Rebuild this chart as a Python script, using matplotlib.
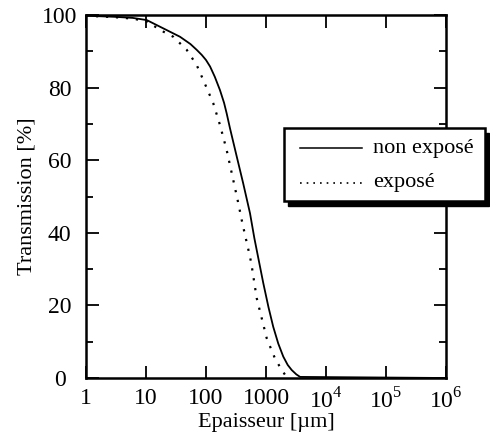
import matplotlib
matplotlib.use("Agg")
import matplotlib.pyplot as plt
import numpy as np
from matplotlib.ticker import FixedLocator, LogLocator, NullFormatter, FixedFormatter
import matplotlib.patches as mpatches
from matplotlib.lines import Line2D

# Data
x_non = [1, 3, 6, 10.3, 19.5, 36.9, 55, 70, 85, 100, 117, 140, 171, 200, 221, 251, 320, 417, 541, 640,
         745, 902, 1100, 1320, 1600, 1940, 2300, 2680, 3200, 3700, 1e6]
y_non = [99.8, 99.5, 99.2, 98.6, 96.3, 94.0, 92.0, 90.4, 89.0, 87.6, 85.8, 83.0, 79.3, 75.8, 72.9, 68.8,
         61.5, 53.6, 45.4, 38.5, 33.0, 26.1, 19.5, 14.1, 9.5, 5.9, 3.6, 2.2, 1.0, 0.3, 0.0]
x_exp = [1, 3, 6, 10, 19.5, 28.5, 47.7, 70, 90, 132, 171, 221, 285, 346, 394,
         447, 541, 575, 700, 1030, 1410, 1700, 2090, 2600]
y_exp = [99.8, 99.4, 99.0, 98.3, 95.4, 94.0, 90.4, 86.2, 82.1, 75.7, 69.7, 62.8, 54.5, 48.1, 43.5,
         39.4, 33.4, 31.1, 22.0, 10.9, 5.4, 3.1, 0.8, 0.0]

labels = ["non exposé", "exposé"]
xticks = [1, 10, 100, 1000, 1e4, 1e5, 1e6]
xticklabels = ["1", "10", "100", "1000", r"10$^4$", r"10$^5$", r"10$^6$"]
yticks = [0, 20, 40, 60, 80, 100]

plt.rcParams['font.family'] = ['Liberation Serif', 'DejaVu Serif']
plt.rcParams['mathtext.fontset'] = 'custom'
plt.rcParams['mathtext.rm'] = 'Liberation Serif'

W, H = 490, 440
fig = plt.figure(figsize=(W / 100, H / 100), dpi=100)
ax = fig.add_axes([86 / W, 1 - 378 / H, (446 - 86) / W, (378 - 15) / H])
ax.plot(x_non, y_non, color='black', lw=1.3, linestyle='-', label=labels[0])
ax.plot(x_exp, y_exp, color='black', lw=1.6, linestyle=(0, (1, 3.5)), label=labels[1])
ax.set_xscale('log')
ax.set_xlim(1, 1e6)
ax.set_ylim(0, 100)
ax.xaxis.set_major_locator(FixedLocator(xticks))
ax.xaxis.set_major_formatter(FixedFormatter(xticklabels))
ax.xaxis.set_minor_locator(LogLocator(base=10, subs=np.arange(2, 10)))
ax.xaxis.set_minor_formatter(NullFormatter())
ax.set_yticks(yticks)
ax.yaxis.set_minor_locator(FixedLocator([10, 30, 50, 70, 90]))
ax.tick_params(which='both', direction='in', top=True, right=True, width=1.3, labelsize=17)
ax.tick_params(which='major', length=9)
ax.tick_params(which='minor', length=5)
ax.tick_params(axis='x', pad=7)
ax.tick_params(axis='y', pad=19)
for lab in ax.get_yticklabels():
    lab.set_ha('center')
for s in ax.spines.values():
    s.set_linewidth(1.8)
ax.set_xlabel("Epaisseur [µm]", fontsize=16, labelpad=0)
ax.set_ylabel("Transmission [%]", fontsize=16, labelpad=4)

# Legend box with shadow (figure pixel coordinates)
x0, y0, w, h = 284, 128, 201, 73
def fx(x):
    return x / W
def fy(y):
    return 1 - y / H
fig.patches.append(mpatches.Rectangle((fx(x0 + 4), fy(y0 + h + 5)), w / W, h / H,
                                      transform=fig.transFigure, facecolor='black',
                                      edgecolor='black', zorder=5))
fig.patches.append(mpatches.Rectangle((fx(x0), fy(y0 + h)), w / W, h / H,
                                      transform=fig.transFigure, facecolor='white',
                                      edgecolor='black', lw=1.8, zorder=6))
fig.lines.append(Line2D([fx(300), fx(362)], [fy(148), fy(148)], transform=fig.transFigure,
                        color='black', lw=1.1, zorder=7))
fig.lines.append(Line2D([fx(300), fx(362)], [fy(183), fy(183)], transform=fig.transFigure,
                        color='black', lw=1.2, linestyle=(0, (1, 3)), zorder=7))
fig.text(fx(373), fy(148), labels[0], fontsize=16, va='center', ha='left', zorder=8)
fig.text(fx(373), fy(183), labels[1], fontsize=16, va='center', ha='left', zorder=8)

fig.savefig("out.png", dpi=100)
